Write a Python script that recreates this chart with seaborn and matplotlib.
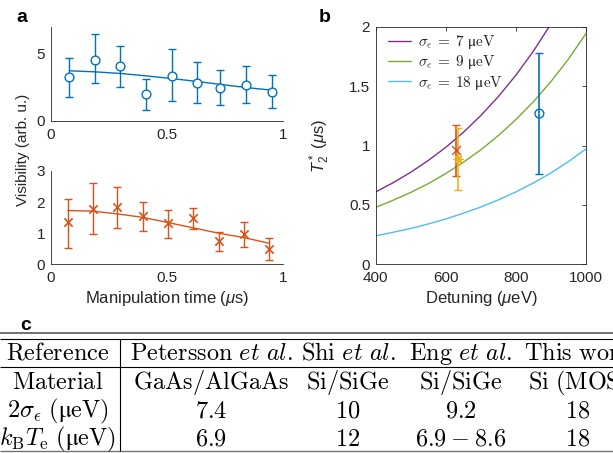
import numpy as np
import pandas as pd
import matplotlib
matplotlib.use("Agg")
import matplotlib.pyplot as plt
import seaborn as sns

# ---- panel a: visibility vs manipulation time ----
time_top = [0.08, 0.19, 0.30, 0.41, 0.52, 0.63, 0.73, 0.84, 0.95]
vis_top = [3.25, 4.55, 4.05, 1.98, 3.35, 2.85, 2.45, 2.65, 2.15]
vis_top_lo = [1.80, 2.78, 2.53, 0.83, 1.45, 1.33, 1.18, 1.30, 0.98]
vis_top_hi = [4.65, 6.48, 5.55, 3.15, 5.33, 4.35, 3.80, 4.10, 3.38]
fit_top = [3.73, 3.65, 3.53, 3.35, 3.15, 2.93, 2.71, 2.48, 2.28]

time_bot = [0.073, 0.18, 0.287, 0.395, 0.506, 0.613, 0.722, 0.83, 0.937]
vis_bot = [1.35, 1.77, 1.83, 1.56, 1.32, 1.48, 0.75, 0.96, 0.49]
vis_bot_lo = [0.54, 0.98, 1.18, 1.08, 0.84, 1.14, 0.42, 0.57, 0.14]
vis_bot_hi = [2.11, 2.60, 2.50, 2.01, 1.74, 1.82, 1.05, 1.35, 0.84]
fit_bot = [1.73, 1.71, 1.62, 1.51, 1.34, 1.17, 1.00, 0.86, 0.68]

# ---- panel b: T2* vs detuning ----
detuning = [400, 450, 500, 550, 600, 650, 700, 750, 800, 850, 900, 950, 1000]
t2_sigma7 = [0.610, 0.688, 0.776, 0.875, 0.986, 1.112, 1.254, 1.414, 1.594,
             1.797, 2.026, 2.285, 2.576]
t2_sigma9 = [0.480, 0.540, 0.606, 0.680, 0.765, 0.860, 0.965, 1.085, 1.220,
             1.370, 1.540, 1.730, 1.945]
t2_sigma18 = [0.240, 0.270, 0.302, 0.340, 0.382, 0.430, 0.483, 0.543, 0.610,
              0.686, 0.770, 0.866, 0.973]
sigma_labels = [r"$\sigma_\epsilon\:=\:7\ \mathrm{μeV}$",
                r"$\sigma_\epsilon\:=\:9\ \mathrm{μeV}$",
                r"$\sigma_\epsilon\:=\:18\ \mathrm{μeV}$"]

meas_det = [630, 635, 867]
meas_t2 = [0.96, 0.885, 1.27]
meas_lo = [0.74, 0.626, 0.76]
meas_hi = [1.17, 1.146, 1.78]

# ---- panel c: comparison table ----
table_header = ["Reference", r"$\mathrm{Petersson}\ \mathit{et\ al.}$",
                r"$\mathrm{Shi}\ \mathit{et\ al.}$",
                r"$\mathrm{Eng}\ \mathit{et\ al.}$", r"$\mathrm{This\ work}$"]
table_material = ["Material", r"$\mathrm{GaAs/AlGaAs}$", r"$\mathrm{Si/SiGe}$",
                  r"$\mathrm{Si/SiGe}$", r"$\mathrm{Si\ (MOS)}$"]
table_sigma = [r"$2\sigma_\epsilon\ (\mathrm{μeV})$", "7.4", "10", "9.2", "18"]
table_kT = [r"$k_\mathrm{B}T_\mathrm{e}\ (\mathrm{μeV})$", "6.9", "12",
            r"$6.9\:-\:8.6$", "18"]

BLUE = "#0072BD"
RED = "#D95319"
YELLOW = "#EDB120"
PURPLE = "#7E2F8E"
GREEN = "#77AC30"
CYAN = "#4DBEEE"
AX = "#262626"

sns.set_theme(style="white")
plt.rcParams["font.family"] = ["Liberation Sans", "DejaVu Sans"]
plt.rcParams.update({
    "mathtext.fontset": "custom",
    "mathtext.rm": "Liberation Sans",
    "mathtext.it": "Liberation Sans:italic",
    "mathtext.bf": "Liberation Sans:bold",
    "font.size": 11,
    "axes.edgecolor": AX,
    "axes.linewidth": 0.6,
    "axes.labelcolor": AX,
    "xtick.color": AX,
    "ytick.color": AX,
    "xtick.direction": "in",
    "ytick.direction": "in",
    "xtick.major.size": 3,
    "ytick.major.size": 3,
    "xtick.major.width": 0.6,
    "ytick.major.width": 0.6,
    "xtick.labelsize": 11,
    "ytick.labelsize": 11,
    "xtick.major.pad": 5,
    "ytick.major.pad": 4,
})

W, H = 613, 453
fig = plt.figure(figsize=(W / 100, H / 100), dpi=100)


def px_axes(left, top, right, bottom):
    return fig.add_axes([left / W, 1 - bottom / H, (right - left) / W,
                         (bottom - top) / H])


ax_top = px_axes(50.7, 27, 283.3, 120.7)
ax_bot = px_axes(50.7, 171, 283.3, 264.3)
ax_b = px_axes(375.7, 27, 586, 264.3)


def visibility_panel(ax, t, v, lo, hi, fit, color, marker, ylim, yticks):
    v = np.asarray(v)
    ax.errorbar(t, v, yerr=[v - np.asarray(lo), np.asarray(hi) - v],
                fmt="none", ecolor=color, elinewidth=1.0, capsize=3,
                capthick=1.0, zorder=2)
    sns.lineplot(x=t, y=fit, ax=ax, color=color, lw=1.0, zorder=3)
    if marker == "o":
        sns.scatterplot(x=t, y=v, ax=ax, marker="o", s=40,
                        facecolors="white", edgecolor=color, linewidth=1.0,
                        zorder=4)
    else:
        sns.scatterplot(x=t, y=v, ax=ax, marker="x", s=36, color=color,
                        linewidth=1.2, zorder=4)
    ax.set_xlim(0, 1)
    ax.set_ylim(*ylim)
    ax.set_xticks([0, 0.5, 1])
    ax.set_xticklabels(["0", "0.5", "1"])
    ax.set_yticks(yticks)
    ax.set_yticklabels([str(y) for y in yticks])
    sns.despine(ax=ax)


visibility_panel(ax_top, time_top, vis_top, vis_top_lo, vis_top_hi, fit_top,
                 BLUE, "o", (0, 7), [0, 5])
visibility_panel(ax_bot, time_bot, vis_bot, vis_bot_lo, vis_bot_hi, fit_bot,
                 RED, "x", (0, 3), [0, 1, 2, 3])
ax_bot.set_xlabel(r"Manipulation time ($\mu$s)", labelpad=3)

# panel b curves
for curve, col, lab in zip([t2_sigma7, t2_sigma9, t2_sigma18],
                           [PURPLE, GREEN, CYAN], sigma_labels):
    sns.lineplot(x=detuning, y=curve, ax=ax_b, color=col, lw=1.0, label=lab)

meas_colors = [RED, YELLOW, BLUE]
meas_markers = ["x", (8, 2, 0), "o"]
for d, t2, lo, hi, col, mk in zip(meas_det, meas_t2, meas_lo, meas_hi,
                                  meas_colors, meas_markers):
    ax_b.errorbar([d], [t2], yerr=[[t2 - lo], [hi - t2]], fmt="none",
                  ecolor=col, elinewidth=1.2, capsize=3, capthick=1.0,
                  zorder=3)
    if mk == "o":
        sns.scatterplot(x=[d], y=[t2], ax=ax_b, marker="o", s=40,
                        facecolors="none", edgecolor=col, linewidth=1.0,
                        zorder=4)
    else:
        sns.scatterplot(x=[d], y=[t2], ax=ax_b, marker=mk, s=40,
                        color=col, edgecolor=col, linewidth=1.0, zorder=4)

ax_b.set_xlim(400, 1000)
ax_b.set_ylim(0, 2)
ax_b.set_xticks([400, 600, 800, 1000])
ax_b.set_yticks([0, 0.5, 1, 1.5, 2])
ax_b.set_yticklabels(["0", "0.5", "1", "1.5", "2"])
ax_b.tick_params(top=True, right=True)
ax_b.set_xlabel(r"Detuning ($\mu$eV)", labelpad=3)
ax_b.set_ylabel(r"$T_2^*$ ($\mu$s)", labelpad=12)
leg = ax_b.legend(loc="upper left", bbox_to_anchor=(0.058, 0.975),
                  frameon=False, borderaxespad=0, borderpad=0,
                  handlelength=1.5, handletextpad=0.5, labelspacing=0.15,
                  fontsize=11)
for txt in leg.get_texts():
    txt.set_math_fontfamily("cm")

# overlay in pixel units for panel letters, shared label and the table
ov = fig.add_axes([0, 0, 1, 1], zorder=5)
ov.set_xlim(0, W)
ov.set_ylim(H, 0)
ov.axis("off")

for letter, x, y in [("a", 22, 18), ("b", 325, 18), ("c", 26, 325)]:
    ov.text(x, y, letter, fontsize=14, fontweight="bold", ha="center",
            va="center", color="black")
ov.text(23, 150, "Visibility (arb. u.)", rotation=90, ha="center",
        va="center", fontsize=11, color=AX)

ov.hlines(332.8, 0, W, color="0.35", lw=1.2)
ov.hlines(339.3, 0, W, color="black", lw=0.8)
ov.hlines(367.3, 0, W, color="black", lw=0.8)
ov.hlines(451.3, 0, W, color="0.45", lw=1.0)
ov.vlines(120, 339.3, 451.3, color="black", lw=0.8)

col_x = [58, 211, 348, 461, 578]
row_base = [360, 389, 417.5, 445.5]
for row, yb in zip([table_header, table_material, table_sigma, table_kT],
                   row_base):
    for cell, xc in zip(row, col_x):
        ov.text(xc, yb, cell if cell.startswith("$") else
                r"$\mathrm{" + cell.replace(" ", r"\ ") + "}$",
                ha="center", va="baseline", fontsize=17.5,
                math_fontfamily="cm", color="black")

fig.savefig("out.png", dpi=100)
